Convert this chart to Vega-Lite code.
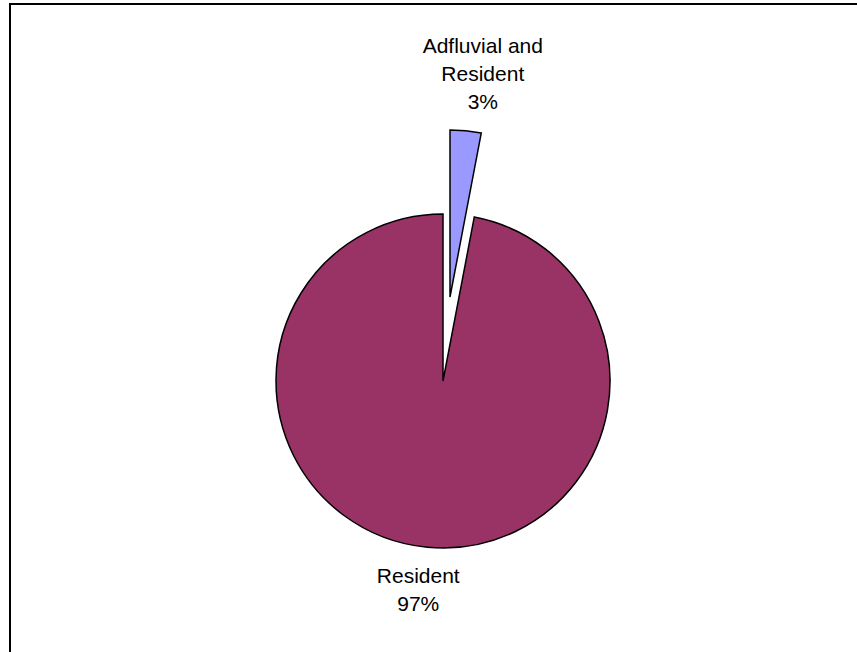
{
  "$schema": "https://vega.github.io/schema/vega-lite/v6.json",
  "width": 847,
  "height": 648,
  "autosize": {"type": "none"},
  "padding": {"left": 10, "top": 4, "right": 0, "bottom": 0},
  "background": "white",
  "config": {
    "view": {"stroke": null}
  },
  "data": {
    "values": [
      {"category": "Adfluvial and Resident", "value": 3, "label": "Adfluvial and\nResident\n3%"},
      {"category": "Resident", "value": 97, "label": "Resident\n97%"}
    ]
  },
  "layer": [
    {
      "data": {"values": [{"frame": "plot"}]},
      "mark": {"type": "rect", "fill": "white", "fillOpacity": 0, "stroke": "black", "strokeWidth": 2, "strokeDash": [847, 1495, 648, 10]},
      "encoding": {}
    },
    {
      "mark": {"type": "arc", "radius": 167, "stroke": "black", "strokeWidth": 1.5, "xOffset": 9.5, "yOffset": 53},
      "encoding": {
        "theta": {"field": "value", "type": "quantitative", "stack": true},
        "color": {"field": "category", "type": "nominal", "scale": {"domain": ["Adfluvial and Resident", "Resident"], "range": ["#9999FF", "#993366"]}, "legend": null},
        "opacity": {"condition": {"test": "datum.category === 'Resident'", "value": 1}, "value": 0}
      }
    },
    {
      "mark": {"type": "arc", "radius": 167, "stroke": "black", "strokeWidth": 1.5, "xOffset": 16.5, "yOffset": -31},
      "encoding": {
        "theta": {"field": "value", "type": "quantitative", "stack": true},
        "color": {"field": "category", "type": "nominal", "scale": {"domain": ["Adfluvial and Resident", "Resident"], "range": ["#9999FF", "#993366"]}, "legend": null},
        "opacity": {"condition": {"test": "datum.category === 'Resident'", "value": 0}, "value": 1}
      }
    },
    {
      "mark": {"type": "text", "radius": 210, "xOffset": 9.5, "yOffset": 53, "dx": -5, "dy": -13, "font": "Liberation Sans", "fontSize": 21, "lineBreak": "\n", "lineHeight": 28, "baseline": "middle", "align": "center", "color": "black"},
      "encoding": {
        "theta": {"field": "value", "type": "quantitative", "stack": true},
        "detail": {"field": "category", "type": "nominal"},
        "text": {"condition": {"test": "datum.category === 'Resident'", "field": "label", "type": "nominal"}, "value": ""}
      }
    },
    {
      "mark": {"type": "text", "radius": 306, "xOffset": 9.5, "yOffset": 53, "dx": 11, "dy": -29.5, "font": "Liberation Sans", "fontSize": 21, "lineBreak": "\n", "lineHeight": 28, "baseline": "middle", "align": "center", "color": "black"},
      "encoding": {
        "theta": {"field": "value", "type": "quantitative", "stack": true},
        "detail": {"field": "category", "type": "nominal"},
        "text": {"condition": {"test": "datum.category !== 'Resident'", "field": "label", "type": "nominal"}, "value": ""}
      }
    }
  ]
}
